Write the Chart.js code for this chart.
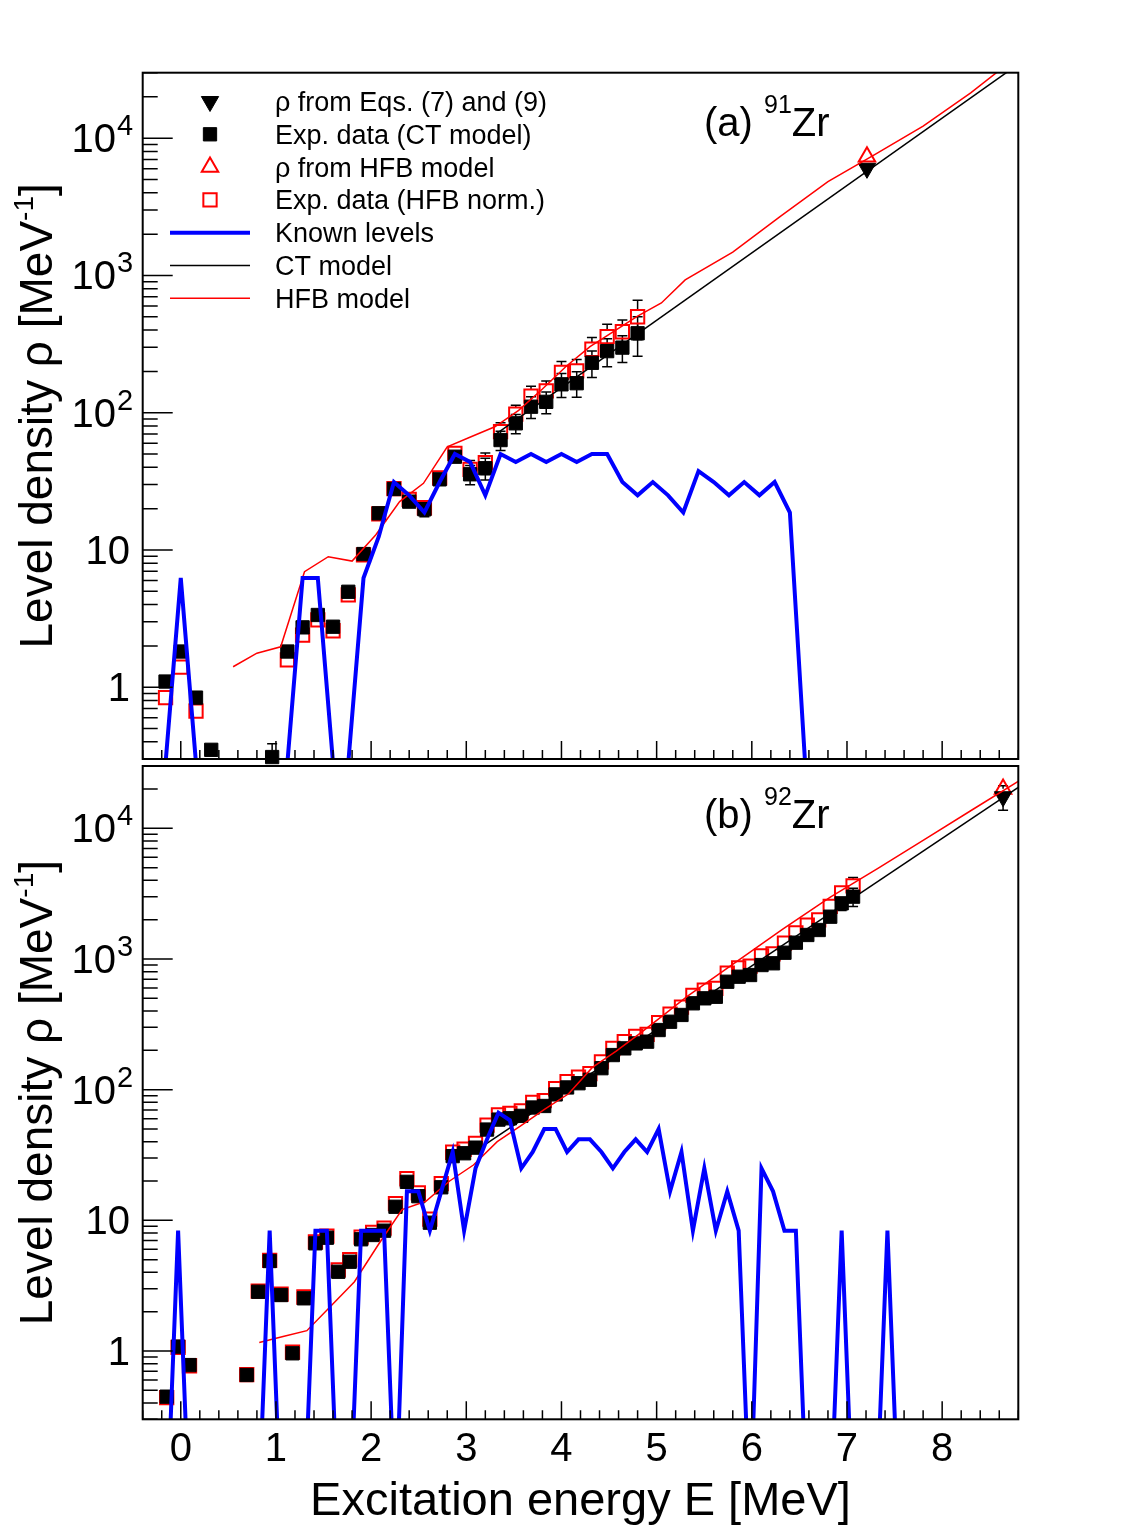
<!DOCTYPE html>
<html>
<head>
<meta charset="utf-8">
<script src="https://cdn.jsdelivr.net/npm/chart.js@4.4.1/dist/chart.umd.min.js"></script>
<style>
html,body{margin:0;padding:0;background:#ffffff;}
#wrap{position:relative;width:1134px;height:1536px;background:#ffffff;}
canvas{position:absolute;left:0;top:0;}
</style>
</head>
<body>
<div id="wrap">
<canvas id="ca" width="1134" height="1536"></canvas>
<canvas id="cb" width="1134" height="1536"></canvas>
</div>
<script>
// ======================= DATA =======================
// ---- Panel (a): 91Zr ----
const eExpA = [-0.16,0.00,0.16,0.32,0.96,1.12,1.28,1.44,1.60,1.76,1.92,2.08,2.24,2.40,2.56,2.72,2.88,3.04,3.20,3.36,3.52,3.68,3.84,4.00,4.16,4.32,4.48,4.64,4.80];
const rhoExpCtA = [1.10,1.82,0.84,0.35,0.31,1.82,2.73,3.36,2.76,4.96,9.34,18.5,27.8,22.5,19.8,32.7,47.8,35.6,39.4,63.2,83.7,110.6,120,161,164,231,281,298,379];
const rhoExpHfbA = [0.84,1.40,0.67,null,null,1.58,2.40,3.09,2.58,4.70,9.2,18.3,28.0,23.4,20.3,33.5,50.6,38.7,43.2,72.7,97.8,132,144,197,202,290,358,389,500];
const relErrA = [0.05,0.05,0.05,0.08,0.25,0.06,0.06,0.06,0.06,0.06,0.06,0.06,0.08,0.08,0.12,0.10,0.10,0.16,0.18,0.16,0.16,0.18,0.18,0.20,0.21,0.22,0.23,0.22,0.32];

const eKnownA = [-0.16,0.00,0.16,0.32,0.48,0.64,0.80,0.96,1.12,1.28,1.44,1.60,1.76,1.92,2.08,2.24,2.40,2.56,2.72,2.88,3.04,3.20,3.36,3.52,3.68,3.84,4.00,4.16,4.32,4.48,4.64,4.80,4.96,5.12,5.28,5.44,5.60,5.76,5.92,6.08,6.24,6.40,6.56];
const rhoKnownA = [0,6.25,0,0,0,0,0,0,0,6.25,6.25,0,0,6.25,12.5,31.25,25,18.75,31.25,50,43.75,25,50,43.75,50,43.75,50,43.75,50,50,31.25,25,31.25,25,18.75,37.5,31.25,25,31.25,25,31.25,18.75,0];

const eCtLineA = [3.30, 8.80];
const rhoCtLineA = [69, 34600];
const eHfbLineA = [0.55,0.80,1.05,1.30,1.55,1.80,2.05,2.30,2.55,2.80,3.05,3.30,3.55,3.80,4.05,4.30,4.55,4.80,5.05,5.30,5.80,6.30,6.80,7.30,7.80,8.30,8.80];
const rhoHfbLineA = [1.41,1.77,1.97,6.95,8.93,8.3,12.9,22.5,30.6,56.5,66.8,79,104,149,218,303,392,506,630,927,1480,2690,4820,7650,12250,21400,40000];

const eEqA = [7.21];  const rhoEqA = [6030];  const errEqA = [0];
const eHfbPtA = [7.21]; const rhoHfbPtA = [7330];

// ---- Panel (b): 92Zr ----
const eExpB = [-0.148,-0.028,0.092,0.693,0.814,0.934,1.054,1.174,1.294,1.415,1.535,1.655,1.775,1.895,2.016,2.136,2.256,2.376,2.496,2.617,2.737,2.857,2.977,3.097,3.218,3.338,3.458,3.578,3.698,3.819,3.939,4.059,4.179,4.299,4.420,4.540,4.660,4.780,4.900,5.021,5.141,5.261,5.381,5.501,5.622,5.742,5.862,5.982,6.102,6.223,6.343,6.463,6.583,6.703,6.824,6.944,7.064];
const rhoExpCtB = [0.447,1.08,0.78,0.655,2.84,4.88,2.68,0.96,2.53,6.67,7.36,4.04,4.82,7.16,7.72,8.33,12.7,19.7,15.3,9.59,17.9,31.0,32.6,36.0,49.5,59.0,60.4,63.0,73.0,75.0,92.0,104,112,119,146,184,207,226,233,286,331,373,458,500,514,670,732,754,899,927,1117,1333,1527,1667,2108,2667,3000];
const rhoExpHfbB = [0.439,1.064,0.771,0.659,2.87,4.94,2.72,0.98,2.59,6.85,7.58,4.18,5.00,7.45,8.07,8.73,13.4,20.8,16.2,10.2,19.1,33.2,35.0,38.8,53.5,64.0,65.8,68.9,80.0,82.5,101.6,115.2,124.5,132.8,163.4,206.6,233.3,255.6,264.5,325.8,378.3,427.8,527.2,577.5,595.7,779.2,854.2,882.9,1056,1093,1321,1582,1819,1992,2527,3211,3624];
const relErrB = [0.05,0.05,0.05,0.05,0.05,0.05,0.05,0.05,0.05,0.05,0.05,0.05,0.05,0.05,0.05,0.05,0.05,0.05,0.05,0.05,0.05,0.05,0.05,0.05,0.05,0.05,0.05,0.05,0.05,0.05,0.05,0.05,0.05,0.05,0.05,0.05,0.05,0.05,0.05,0.05,0.05,0.05,0.05,0.05,0.05,0.05,0.05,0.05,0.05,0.05,0.05,0.05,0.07,0.08,0.09,0.12,0.16];

const eKnownB = [-0.148,-0.028,0.092,0.212,0.333,0.453,0.573,0.693,0.814,0.934,1.054,1.174,1.294,1.415,1.535,1.655,1.775,1.895,2.016,2.136,2.256,2.376,2.496,2.617,2.737,2.857,2.977,3.097,3.218,3.338,3.458,3.578,3.698,3.819,3.939,4.059,4.179,4.299,4.420,4.540,4.660,4.780,4.900,5.021,5.141,5.261,5.381,5.501,5.622,5.742,5.862,5.982,6.102,6.223,6.343,6.463,6.583,6.703,6.824,6.944,7.064,7.184,7.304,7.425,7.545];
const rhoKnownB = [0,8.33,0,0,0,0,0,0,0,8.33,0,0,0,8.33,8.33,0,0,8.33,8.33,8.33,0,16.67,16.67,8.33,16.67,33.33,8.33,25,41.67,66.67,58.33,25,33.33,50,50,33.33,41.67,41.67,33.33,25,33.33,41.67,33.33,50,16.67,33.33,8.33,25,8.33,16.67,8.33,0,25,16.67,8.33,8.33,0,0,0,8.33,0,0,0,8.33,0];

const eCtLineB = [3.00, 8.80];
const rhoCtLineB = [30.4, 20560];
const eHfbLineB = [0.825,1.075,1.325,1.575,1.825,2.075,2.325,2.575,2.825,3.075,3.325,3.575,3.825,4.075,4.325,4.575,4.825,5.075,5.325,5.825,6.325,6.825,7.325,7.825,8.325,8.825];
const rhoHfbLineB = [1.16,1.29,1.43,2.2,3.39,6.5,12.1,14.0,20.0,26.5,40.0,53,71,93,148,197,270,373,520,937,1690,2970,4940,8320,14000,23550];

const eEqB = [8.64];  const rhoEqB = [17460]; const errEqB = [3700];
const eHfbPtB = [8.64]; const rhoHfbPtB = [20000];

// ---- Axes / labels ----
const xTickValues = [0,1,2,3,4,5,6,7,8];
const xTickLabels = ['0','1','2','3','4','5','6','7','8'];
const yTickValues = [1,10,100,1000,10000];
const yTickBase = ['1','10','10','10','10'];
const yTickExp  = ['','','2','3','4'];
const xTitle = 'Excitation energy E [MeV]';
const yTitleParts = ['Level density ρ [MeV', '-1', ']'];
const legendLabels = ['ρ from Eqs. (7) and (9)','Exp. data (CT model)','ρ from HFB model','Exp. data (HFB norm.)','Known levels','CT model','HFB model'];

// ======================= STYLE / LAYOUT =======================
const FONT = '"Liberation Sans", Arial, Helvetica, sans-serif';
const LEFT = 142.7, RIGHT = 1018.3;
const PANEL_A = {top: 72.7, bottom: 759};
const PANEL_B = {top: 766, bottom: 1419.3};
const X_MIN = -0.4, X_MAX = 8.8, Y_MIN = 0.3, Y_MAX = 30000;
const ZERO_FLOOR_A = 0.28;   // how empty level bins are drawn (log scale)
const ZERO_FLOOR_B = 0.05;
const RED = '#ff0000', BLUE = '#0000ff', BLACK = '#000000';

function pts(xs, ys, rel, abs) {
  const out = [];
  xs.forEach((x, i) => {
    const y = ys[i];
    if (y === null || y === undefined) return;
    let e = 0;
    if (rel) e = y * rel[i];
    if (abs) e = abs[i];
    out.push({x: x, y: y, e: e});
  });
  return out;
}
function levelPts(xs, ys, floor) {
  return xs.map((x, i) => ({x: x, y: ys[i] > 0 ? ys[i] : floor}));
}

function drawRich(ctx, x, y, parts, align) {
  let total = 0;
  parts.forEach(p => { ctx.font = p.s + 'px ' + FONT; p.w = ctx.measureText(p.t).width; total += p.w; });
  let cx = align === 'right' ? x - total : (align === 'center' ? x - total / 2 : x);
  ctx.textAlign = 'left'; ctx.textBaseline = 'alphabetic';
  parts.forEach(p => { ctx.font = p.s + 'px ' + FONT; ctx.fillText(p.t, cx, y + (p.dy || 0)); cx += p.w; });
  return total;
}

function drawErrors(chart) {
  const ctx = chart.ctx, a = chart.chartArea, ys = chart.scales.y;
  ctx.save();
  ctx.beginPath(); ctx.rect(a.left, a.top, a.right - a.left, a.bottom - a.top); ctx.clip();
  ctx.strokeStyle = BLACK; ctx.lineWidth = 1.5;
  chart.data.datasets.forEach((ds, di) => {
    if (!ds.withErrors) return;
    const meta = chart.getDatasetMeta(di);
    meta.data.forEach((el, i) => {
      const p = ds.data[i];
      if (!p || !p.e) return;
      const gap = ds.errGap || 0;
      const yHi = ys.getPixelForValue(p.y + p.e);
      const yLo = (p.y - p.e) > 0 ? ys.getPixelForValue(p.y - p.e) : a.bottom + 20;
      ctx.beginPath();
      if (yHi < el.y - gap) { ctx.moveTo(el.x, el.y - gap); ctx.lineTo(el.x, yHi); ctx.moveTo(el.x - 5, yHi); ctx.lineTo(el.x + 5, yHi); }
      if (yLo > el.y + gap) { ctx.moveTo(el.x, el.y + gap); ctx.lineTo(el.x, yLo); ctx.moveTo(el.x - 5, yLo); ctx.lineTo(el.x + 5, yLo); }
      ctx.stroke();
    });
  });
  ctx.restore();
}

function drawMarker(ctx, ds, x, y) {
  ctx.save();
  ctx.fillStyle = ds.backgroundColor; ctx.strokeStyle = ds.borderColor; ctx.lineWidth = ds.borderWidth;
  if (Chart.helpers && Chart.helpers.drawPoint) {
    Chart.helpers.drawPoint(ctx, {pointStyle: ds.pointStyle, rotation: ds.rotation || 0, radius: ds.pointRadius, borderWidth: ds.borderWidth}, x, y);
  }
  ctx.restore();
}

function axesPlugin(panel) {
  return {
    id: 'rootAxes' + panel,
    beforeDatasetsDraw(chart) { drawErrors(chart); },
    afterDraw(chart) {
      const ctx = chart.ctx, a = chart.chartArea, xs = chart.scales.x, ys = chart.scales.y;
      ctx.save();
      // inward ticks
      ctx.strokeStyle = BLACK; ctx.lineWidth = 1.5;
      ctx.beginPath();
      for (let k = -2; k <= 44; k++) {
        const v = k / 5;
        if (v < xs.min - 1e-9 || v > xs.max + 1e-9) continue;
        const px = xs.getPixelForValue(v);
        const len = (k % 5 === 0) ? 18 : 9;
        ctx.moveTo(px, a.bottom); ctx.lineTo(px, a.bottom - len);
      }
      for (let d = -1; d <= 4; d++) {
        for (let m = 1; m <= 9; m++) {
          const v = m * Math.pow(10, d);
          if (v < ys.min * 0.999 || v > ys.max * 1.001) continue;
          const py = ys.getPixelForValue(v);
          const len = m === 1 ? 30 : 15;
          ctx.moveTo(a.left, py); ctx.lineTo(a.left + len, py);
        }
      }
      ctx.stroke();
      // frame
      ctx.lineWidth = 2;
      ctx.strokeRect(a.left, a.top, a.right - a.left, a.bottom - a.top);
      ctx.fillStyle = BLACK;
      // y tick labels
      yTickValues.forEach((v, i) => {
        const py = ys.getPixelForValue(v) + 14;
        if (yTickExp[i]) {
          drawRich(ctx, 116, py, [{t: yTickBase[i], s: 40}], 'right');
          drawRich(ctx, 117, py - 17, [{t: yTickExp[i], s: 29}], 'left');
        } else {
          drawRich(ctx, 130, py, [{t: yTickBase[i], s: 40}], 'right');
        }
      });
      // y title
      ctx.save();
      ctx.translate(52, (a.top + a.bottom) / 2);
      ctx.rotate(-Math.PI / 2);
      drawRich(ctx, 0, 0, [{t: yTitleParts[0], s: 46}, {t: yTitleParts[1], s: 28, dy: -19}, {t: yTitleParts[2], s: 46}], 'center');
      ctx.restore();
      if (panel === 'a') {
        drawRich(ctx, 704, 136, [{t: '(a) ', s: 40}, {t: '91', s: 25, dy: -23}, {t: 'Zr', s: 40}], 'left');
        // legend
        const rowY0 = 101.5, dy = 32.8;
        legendLabels.forEach((lab, r) => {
          const ds = chart.data.datasets.find(d => d.label === lab);
          const y = rowY0 + r * dy;
          if (ds.showLine) {
            ctx.save(); ctx.strokeStyle = ds.borderColor; ctx.lineWidth = ds.borderWidth;
            ctx.beginPath(); ctx.moveTo(170, y); ctx.lineTo(250, y); ctx.stroke(); ctx.restore();
          } else {
            drawMarker(ctx, ds, 210, y);
          }
          ctx.fillStyle = BLACK;
          drawRich(ctx, 275, y + 9.5, [{t: lab, s: 27}], 'left');
        });
      } else {
        drawRich(ctx, 704, 828.3, [{t: '(b) ', s: 40}, {t: '92', s: 25, dy: -23}, {t: 'Zr', s: 40}], 'left');
        // x tick labels
        xTickValues.forEach((v, i) => {
          const px = xs.getPixelForValue(v);
          drawRich(ctx, px, 1461, [{t: xTickLabels[i], s: 40}], 'center');
        });
        drawRich(ctx, (a.left + a.right) / 2, 1515, [{t: xTitle, s: 47}], 'center');
      }
      ctx.restore();
    }
  };
}

function buildDatasets(d) {
  return [
    {label: 'Known levels', data: levelPts(d.eKnown, d.rhoKnown, d.floor), showLine: true, borderColor: BLUE, backgroundColor: BLUE, borderWidth: 4, pointRadius: 0, order: 1, clip: 0},
    {label: 'HFB model', data: pts(d.eHfbLine, d.rhoHfbLine), showLine: true, borderColor: RED, backgroundColor: RED, borderWidth: 1.5, pointRadius: 0, order: 2, clip: 0},
    {label: 'CT model', data: pts(d.eCtLine, d.rhoCtLine), showLine: true, borderColor: BLACK, backgroundColor: BLACK, borderWidth: 1.5, pointRadius: 0, order: 3, clip: 0},
    {label: 'ρ from Eqs. (7) and (9)', data: pts(d.eEq, d.rhoEq, null, d.errEq), showLine: false, pointStyle: 'triangle', rotation: 180, pointRadius: 10, backgroundColor: BLACK, borderColor: BLACK, borderWidth: 1, order: 4, clip: false, withErrors: true, errGap: 8},
    {label: 'ρ from HFB model', data: pts(d.eHfbPt, d.rhoHfbPt), showLine: false, pointStyle: 'triangle', rotation: 0, pointRadius: 9.5, backgroundColor: 'rgba(0,0,0,0)', borderColor: RED, borderWidth: 2, order: 5, clip: false},
    {label: 'Exp. data (CT model)', data: pts(d.eExp, d.rhoCt, d.relErr), showLine: false, pointStyle: 'rect', pointRadius: 9.4, backgroundColor: BLACK, borderColor: BLACK, borderWidth: 1, order: 6, clip: false, withErrors: true, errGap: 6.5},
    {label: 'Exp. data (HFB norm.)', data: pts(d.eExp, d.rhoHfb, d.relErr), showLine: false, pointStyle: 'rect', pointRadius: 9.4, backgroundColor: 'rgba(0,0,0,0)', borderColor: RED, borderWidth: 2, order: 7, clip: false, withErrors: true, errGap: 6.5}
  ];
}

function makeChart(id, panel, d, pad) {
  return new Chart(document.getElementById(id), {
    type: 'scatter',
    data: {datasets: buildDatasets(d)},
    options: {
      responsive: false, animation: false, devicePixelRatio: 1, events: [],
      layout: {padding: pad},
      elements: {line: {tension: 0, fill: false}, point: {hoverRadius: 0}},
      plugins: {legend: {display: false}, tooltip: {enabled: false}},
      scales: {
        x: {type: 'linear', min: X_MIN, max: X_MAX, display: false},
        y: {type: 'logarithmic', min: Y_MIN, max: Y_MAX, display: false}
      }
    },
    plugins: [axesPlugin(panel)]
  });
}

makeChart('ca', 'a', {
  eKnown: eKnownA, rhoKnown: rhoKnownA, floor: ZERO_FLOOR_A,
  eHfbLine: eHfbLineA, rhoHfbLine: rhoHfbLineA, eCtLine: eCtLineA, rhoCtLine: rhoCtLineA,
  eEq: eEqA, rhoEq: rhoEqA, errEq: errEqA, eHfbPt: eHfbPtA, rhoHfbPt: rhoHfbPtA,
  eExp: eExpA, rhoCt: rhoExpCtA, rhoHfb: rhoExpHfbA, relErr: relErrA
}, {left: LEFT, right: 1134 - RIGHT, top: PANEL_A.top, bottom: 1536 - PANEL_A.bottom});

makeChart('cb', 'b', {
  eKnown: eKnownB, rhoKnown: rhoKnownB, floor: ZERO_FLOOR_B,
  eHfbLine: eHfbLineB, rhoHfbLine: rhoHfbLineB, eCtLine: eCtLineB, rhoCtLine: rhoCtLineB,
  eEq: eEqB, rhoEq: rhoEqB, errEq: errEqB, eHfbPt: eHfbPtB, rhoHfbPt: rhoHfbPtB,
  eExp: eExpB, rhoCt: rhoExpCtB, rhoHfb: rhoExpHfbB, relErr: relErrB
}, {left: LEFT, right: 1134 - RIGHT, top: PANEL_B.top, bottom: 1536 - PANEL_B.bottom});
</script>
</body>
</html>
